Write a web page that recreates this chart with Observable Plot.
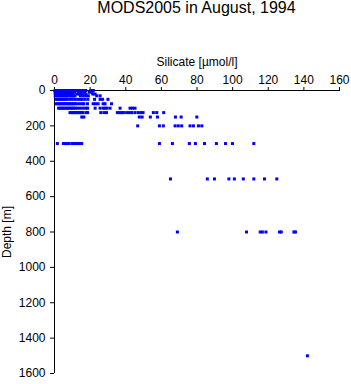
<!DOCTYPE html>
<html><head><meta charset="utf-8">
<script src="https://cdn.jsdelivr.net/npm/d3@7"></script>
<script src="https://cdn.jsdelivr.net/npm/@observablehq/plot@0.6"></script>
<style>
body{margin:0;background:#fff;font-family:"Liberation Sans",Arial,sans-serif;}
#title{height:24px;width:285px;margin-left:54px;text-align:center;font-size:16px;line-height:16px;white-space:nowrap;}
</style></head><body>
<div id="title">MODS2005 in August, 1994</div>
<div id="chart"></div>
<script>
const xTicks = [0, 20, 40, 60, 80, 100, 120, 140, 160];
const yTicks = [0, 200, 400, 600, 800, 1000, 1200, 1400, 1600];

// silicate values (µmol/l) at each sampled depth (m)
const si0 = [0.3,1,1.8,2.5,3.2,4,4.8,5.5,6.3,7,7.8,8.5,9.3,10,10.8,11.5,13,14.5,16,17.5,20.5,21.8];
const si10 = [0.3,1.2,2,2.8,3.6,4.5,5.3,6.1,7,7.8,8.6,9.5,10.3,11.2,13.5,15,16.8,19.5,21];
const si20 = [0.5,1.3,2.2,3,3.9,4.7,5.6,6.4,7.3,8.1,9,9.8,12.5,14,15.6,17.6,21.5,22.8];
const si30 = [0.4,1.3,2.1,3,3.8,4.7,5.5,6.4,7.2,8.1,9,9.8,10.7,11.5,14.5,16,17.5,19,23.7,25.6];
const si50 = [1,1.8,2.7,3.5,4.4,5.2,6.1,7,8.5,10,11.5,13,14.5,15.5,17,18.7,22.5,25.6,27,30];
const si75 = [1,1.8,2.7,3.5,4.4,5.2,6.1,7,7.9,8.7,9.6,10.5,11.3,12.5,14,15.5,16.5,18.5,21.7,23,24.5,27.3,28.4,32];
const si100 = [2.3,3.1,4,4.8,5.7,6.5,7.4,8.2,9.1,10,10.8,11.7,13,14.5,16,17.5,18.6,22.8,25.6,27.4,28.5,29.5,31.2,36.8,42.4,43.8,45.2];
const si125 = [8.7,9.7,10.6,11.5,12.4,13.3,14.2,15.2,16,17.7,18.6,26,27.8,29.2,35.3,36.4,37.7,38.7,40.5,42,43.4,45.2,47,48.5,49.7,55.5,57.4,61.3];
const si150 = [15.3,16.5,47.6,49.2,53.8,57.8,67.9,71.1,79.9];
const si200 = [46.7,58.9,61.1,67.7,69.5,71.4,76.1,78,80.8,82.7];
const si300 = [1.6,5,6,7,8,9.7,10.7,11.7,12.7,13.7,14.7,15.3,58.9,66.2,75.7,79.1,84.2,90.9,96,99.9,111.9];
const si500 = [65.1,85.8,89.8,97.9,101,106,111.9,117.9,124.8];
const si800 = [69,107.8,115.5,116.7,118.7,126.3,127.3,134.4,135.3];
const si1500 = [142];

const depths = [0, 10, 20, 30, 50, 75, 100, 125, 150, 200, 300, 500, 800, 1500];
const series = [si0, si10, si20, si30, si50, si75, si100, si125, si150, si200, si300, si500, si800, si1500];
const data = depths.flatMap((d, i) => series[i].map(s => ({depth: d, silicate: s})));

const chart = Plot.plot({
  width: 351, height: 360,
  marginTop: 66, marginBottom: 11, marginLeft: 54, marginRight: 12,
  style: {fontFamily: "'Liberation Sans', Arial, sans-serif", fontSize: "12px", color: "black", background: "white"},
  x: {domain: [0, 160], ticks: xTicks, tickFormat: d => String(d), axis: "top", label: "Silicate [µmol/l]", labelAnchor: "center", labelArrow: "none", tickSize: 4, tickPadding: 3, labelOffset: 33},
  y: {domain: [0, 1600], reverse: true, ticks: yTicks, tickFormat: d => String(d), label: "Depth [m]", labelAnchor: "center", labelArrow: "none", tickSize: 4, tickPadding: 5, labelOffset: 52},
  marks: [
    Plot.ruleY([0], {stroke: "black"}),
    Plot.ruleX([0], {stroke: "black"}),
    Plot.dot(data, {x: "silicate", y: "depth", symbol: "square", r: 1.7, fill: "#0000ff", stroke: "none"})
  ]
});
document.getElementById("chart").appendChild(chart);
</script>
</body></html>
